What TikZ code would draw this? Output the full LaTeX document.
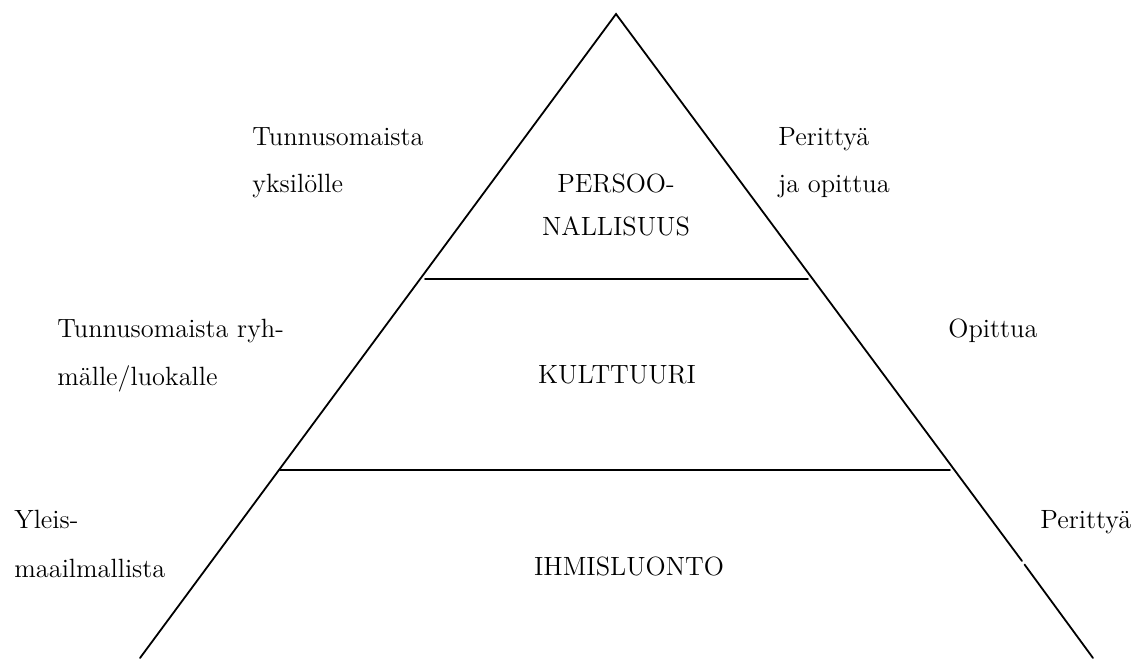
\documentclass[tikz,border=0pt]{standalone}
\usepackage{tikz}
\usetikzlibrary{positioning}

\tikzset{
  lbl/.style={anchor=base west, inner sep=0pt, font=\fontsize{13.2}{15}\selectfont},
  lvl/.style={anchor=base, inner sep=0pt, font=\fontsize{13.2}{15}\selectfont},
  side/.style={line width=0.9pt, line cap=round}
}

\begin{document}
\begin{tikzpicture}[x=0.5pt, y=-0.5pt]
  \useasboundingbox (0,0) rectangle (1143,658);
  % Corners of the pyramid
  \coordinate (top) at (616,14);
  \coordinate (bl) at (140,658);
  \coordinate (br) at (1093,658);
  \coordinate (gapA) at (1022,561);
  \coordinate (gapB) at (1024.5,564.5);
  % Sides (small break in the right side)
  \draw[side] (bl) -- (top) -- (gapA);
  \draw[side] (gapB) -- (br);
  % Level borders
  \coordinate (l1a) at (425,279);
  \coordinate (l1b) at (808,279);
  \coordinate (l2a) at (280,470);
  \coordinate (l2b) at (950,470);
  \draw[side] (l1a) -- (l1b);
  \draw[side] (l2a) -- (l2b);
  % Levels
  \node[lvl] (pers1) at (616,192) {PERSOO-};
  \node[lvl] (pers2) at (616,235) {NALLISUUS};
  \node[lvl] (kult) at (617,383) {KULTTUURI};
  \node[lvl] (ihmi) at (629,575) {IHMISLUONTO};
  % Left labels
  \node[lbl] (yks1) at (252,145) {Tunnusomaista};
  \node[lbl] (yks2) at (252,192) {yksilölle};
  \node[lbl] (ryh1) at (57,337) {Tunnusomaista ryh-};
  \node[lbl] (ryh2) at (57,385) {mälle/luokalle};
  \node[lbl] (yle1) at (14,528) {Yleis-};
  \node[lbl] (yle2) at (14,577) {maailmallista};
  % Right labels
  \node[lbl] (per1) at (778,145) {Perittyä};
  \node[lbl] (per2) at (778,192) {ja opittua};
  \node[lbl] (opi) at (948,337) {Opittua};
  \node[lbl] (per3) at (1040,528) {Perittyä};
\end{tikzpicture}
\end{document}
